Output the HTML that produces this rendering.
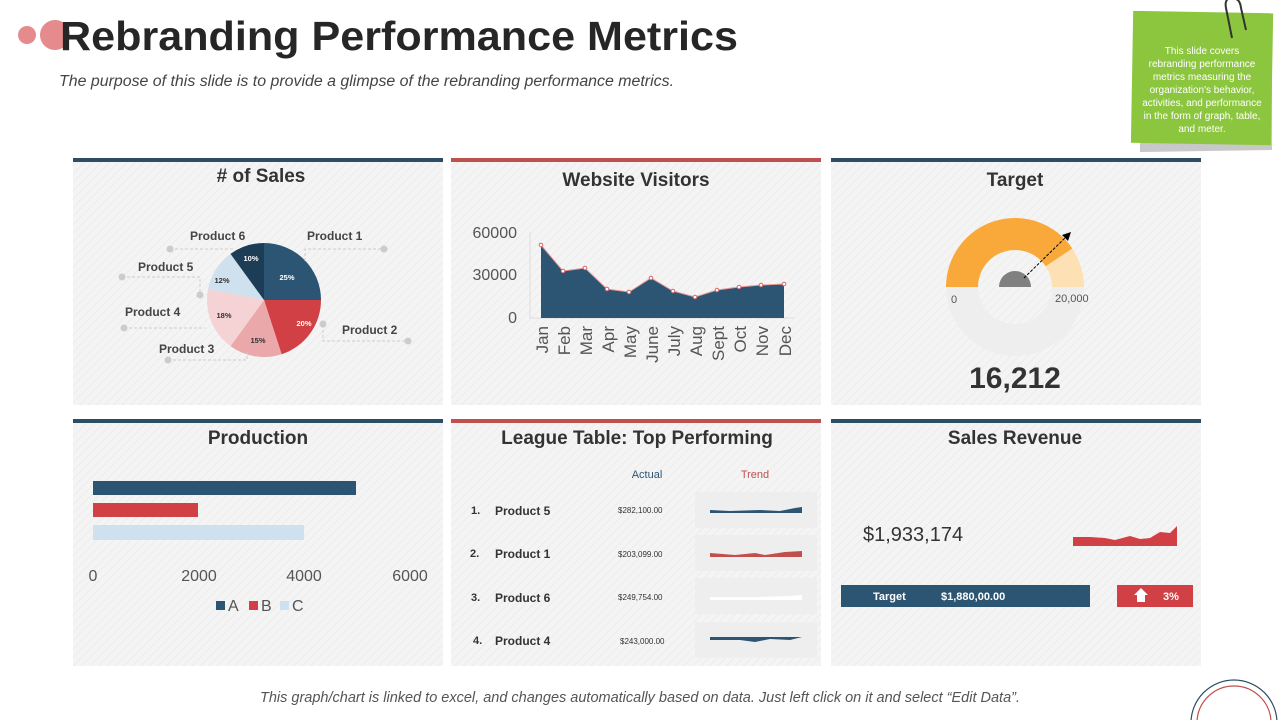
<!DOCTYPE html>
<html><head><meta charset="utf-8"><style>
html,body{margin:0;padding:0;width:1280px;height:720px;overflow:hidden;background:#fff;font-family:"Liberation Sans",sans-serif;}
svg{display:block}
svg text{font-family:"Liberation Sans",sans-serif;}
</style></head><body>
<svg width="1280" height="720" viewBox="0 0 1280 720" xmlns="http://www.w3.org/2000/svg">
<defs>
<pattern id="h" width="6" height="6" patternUnits="userSpaceOnUse" patternTransform="rotate(45)">
<rect width="6" height="6" fill="#f4f4f4"/><rect width="1" height="6" fill="#ececec"/></pattern>
<clipPath id="c"><rect width="1280" height="720"/></clipPath>
</defs>
<g clip-path="url(#c)">
<!-- header -->
<circle cx="27" cy="35" r="9" fill="#e58a8d"/>
<circle cx="55" cy="35" r="15" fill="#e58a8d"/>
<text x="60" y="50" font-size="41" font-weight="bold" fill="#262626" textLength="678" lengthAdjust="spacingAndGlyphs">Rebranding Performance Metrics</text>
<text x="59" y="86" font-size="15.5" font-style="italic" fill="#444" textLength="615" lengthAdjust="spacingAndGlyphs">The purpose of this slide is to provide a glimpse of the rebranding performance metrics.</text>
<!-- sticky note -->
<polygon points="1138,20 1272,16 1272,150 1140,152" fill="#c8c8c8"/>
<rect x="1132" y="12" width="140" height="132" fill="#8cc63f" transform="rotate(1 1200 80)"/>
<path d="M1232,38 L1226,8 Q1224,-2 1232,-2 Q1240,-2 1241,8 L1246,30" fill="none" stroke="#333" stroke-width="2"/>
<g font-size="10" fill="#fff" text-anchor="middle">
<text x="1202" y="54">This slide covers</text>
<text x="1202" y="67">rebranding performance</text>
<text x="1202" y="80">metrics measuring the</text>
<text x="1202" y="93">organization's behavior,</text>
<text x="1202" y="106">activities, and performance</text>
<text x="1202" y="119">in the form of graph, table,</text>
<text x="1202" y="132">and meter.</text>
</g>
<!-- panels -->
<rect x="73" y="162" width="370" height="243" fill="url(#h)"/>
<rect x="451" y="162" width="370" height="243" fill="url(#h)"/>
<rect x="831" y="162" width="370" height="243" fill="url(#h)"/>
<rect x="73" y="423" width="370" height="243" fill="url(#h)"/>
<rect x="451" y="423" width="370" height="243" fill="url(#h)"/>
<rect x="831" y="423" width="370" height="243" fill="url(#h)"/>
<rect x="73" y="158" width="370" height="4" fill="#2b4d65"/>
<rect x="451" y="158" width="370" height="4" fill="#c0504d"/>
<rect x="831" y="158" width="370" height="4" fill="#2b4d65"/>
<rect x="73" y="419" width="370" height="4" fill="#2b4d65"/>
<rect x="451" y="419" width="370" height="4" fill="#c0504d"/>
<rect x="831" y="419" width="370" height="4" fill="#2b4d65"/>
<g font-size="19" font-weight="bold" fill="#333" text-anchor="middle">
<text x="261" y="182"># of Sales</text>
<text x="636" y="186">Website Visitors</text>
<text x="1015" y="186">Target</text>
<text x="258" y="444">Production</text>
<text x="637" y="444">League Table: Top Performing</text>
<text x="1015" y="444">Sales Revenue</text>
</g>
<!-- pie -->
<path d="M264,300 L264,243 A57,57 0 0 1 321,300Z" fill="#2c5573"/>
<path d="M264,300 L321,300 A57,57 0 0 1 281.6,354.2Z" fill="#d04045"/>
<path d="M264,300 L281.6,354.2 A57,57 0 0 1 230.5,346.1Z" fill="#eaa8ab"/>
<path d="M264,300 L230.5,346.1 A57,57 0 0 1 208,289.3Z" fill="#f5d3d5"/>
<path d="M264,300 L208,289.3 A57,57 0 0 1 230.5,253.9Z" fill="#cfe0ee"/>
<path d="M264,300 L230.5,253.9 A57,57 0 0 1 264,243Z" fill="#1d3c55"/>
<g font-size="7.5" font-weight="bold" text-anchor="middle">
<text x="287" y="280" fill="#fff">25%</text>
<text x="304" y="326" fill="#fff">20%</text>
<text x="258" y="343" fill="#333">15%</text>
<text x="224" y="318" fill="#333">18%</text>
<text x="222" y="283" fill="#333">12%</text>
<text x="251" y="261" fill="#fff">10%</text>
</g>
<g stroke="#ccc" stroke-dasharray="3,2" fill="none">
<path d="M170,249 H234"/><path d="M305,261 V249 H384"/>
<path d="M122,277 H200 V295"/><path d="M124,328 H205"/>
<path d="M168,360 H247 V352"/><path d="M323,325 V341 H408"/>
</g>
<g fill="#ccc"><circle cx="170" cy="249" r="3.5"/><circle cx="384" cy="249" r="3.5"/><circle cx="122" cy="277" r="3.5"/><circle cx="200" cy="295" r="3.5"/><circle cx="124" cy="328" r="3.5"/><circle cx="168" cy="360" r="3.5"/><circle cx="323" cy="324" r="3.5"/><circle cx="408" cy="341" r="3.5"/></g>
<g font-size="12" font-weight="bold" fill="#444">
<text x="190" y="240">Product 6</text><text x="307" y="240">Product 1</text>
<text x="138" y="271">Product 5</text><text x="125" y="316">Product 4</text>
<text x="159" y="353">Product 3</text><text x="342" y="334">Product 2</text>
</g>
<!-- area chart -->
<g font-size="16" fill="#555" text-anchor="end"><text x="517" y="238">60000</text><text x="517" y="280">30000</text><text x="517" y="323">0</text></g>
<line x1="530" y1="232" x2="530" y2="318" stroke="#ddd"/>
<line x1="530" y1="318" x2="794" y2="318" stroke="#ddd"/>
<path d="M541,318 L541,245 L563,271 L585,268 L607,289 L629,292 L651,278 L673,291 L695,297 L717,290 L739,287 L761,285 L784,284 L784,318Z" fill="#2c5573"/>
<polyline points="541,245 563,271 585,268 607,289 629,292 651,278 673,291 695,297 717,290 739,287 761,285 784,284" fill="none" stroke="#e99" stroke-width="1"/>
<g fill="#fff" stroke="#d66" stroke-width="1"><circle cx="541" cy="245" r="1.8"/><circle cx="563" cy="271" r="1.8"/><circle cx="585" cy="268" r="1.8"/><circle cx="607" cy="289" r="1.8"/><circle cx="629" cy="292" r="1.8"/><circle cx="651" cy="278" r="1.8"/><circle cx="673" cy="291" r="1.8"/><circle cx="695" cy="297" r="1.8"/><circle cx="717" cy="290" r="1.8"/><circle cx="739" cy="287" r="1.8"/><circle cx="761" cy="285" r="1.8"/><circle cx="784" cy="284" r="1.8"/></g>
<g font-size="17" fill="#555" text-anchor="end">
<text transform="translate(548,326) rotate(-90)">Jan</text>
<text transform="translate(570,326) rotate(-90)">Feb</text>
<text transform="translate(592,326) rotate(-90)">Mar</text>
<text transform="translate(614,326) rotate(-90)">Apr</text>
<text transform="translate(636,326) rotate(-90)">May</text>
<text transform="translate(658,326) rotate(-90)">June</text>
<text transform="translate(680,326) rotate(-90)">July</text>
<text transform="translate(702,326) rotate(-90)">Aug</text>
<text transform="translate(724,326) rotate(-90)">Sept</text>
<text transform="translate(746,326) rotate(-90)">Oct</text>
<text transform="translate(768,326) rotate(-90)">Nov</text>
<text transform="translate(791,326) rotate(-90)">Dec</text>
</g>
<!-- gauge -->
<path d="M946,287 A69,69 0 0 0 1084,287 L1052,287 A37,37 0 0 1 978,287Z" fill="#eeeeee"/>
<path d="M946,287 A69,69 0 0 1 1084,287 L1052,287 A37,37 0 0 0 978,287Z" fill="#fde0b3"/>
<path d="M946,287 A69,69 0 0 1 1072.2,248.4 L1045.7,266.3 A37,37 0 0 0 978,287Z" fill="#f9a93a"/>
<path d="M999,287 A16,16 0 0 1 1031,287Z" fill="#808080"/>
<line x1="1024" y1="278" x2="1066" y2="237" stroke="#000" stroke-dasharray="3,1.5"/>
<polygon points="1071,232 1062,235 1068,241" fill="#000"/>
<text x="951" y="303" font-size="11" fill="#555">0</text>
<text x="1055" y="302" font-size="11" fill="#555">20,000</text>
<text x="1015" y="388" font-size="30" font-weight="bold" fill="#333" text-anchor="middle">16,212</text>
<!-- production -->
<rect x="93" y="481" width="263" height="14" fill="#2c5573"/>
<rect x="93" y="503" width="105" height="14" fill="#d04045"/>
<rect x="93" y="525" width="211" height="15" fill="#cfe0ee"/>
<g font-size="16" fill="#555" text-anchor="middle"><text x="93" y="581">0</text><text x="199" y="581">2000</text><text x="304" y="581">4000</text><text x="410" y="581">6000</text></g>
<rect x="216" y="601" width="9" height="9" fill="#2c5573"/><text x="228" y="611" font-size="16" fill="#555">A</text>
<rect x="249" y="601" width="9" height="9" fill="#d04045"/><text x="261" y="611" font-size="16" fill="#555">B</text>
<rect x="280" y="601" width="9" height="9" fill="#cfe0ee"/><text x="292" y="611" font-size="16" fill="#555">C</text>
<!-- league table -->
<text x="647" y="478" font-size="11" fill="#2c5573" text-anchor="middle">Actual</text>
<text x="755" y="478" font-size="11" fill="#c0504d" text-anchor="middle">Trend</text>
<g fill="#eeeeee"><rect x="695" y="492" width="122" height="36"/><rect x="695" y="535" width="122" height="36"/><rect x="695" y="578" width="122" height="36"/><rect x="695" y="622" width="122" height="36"/></g>
<g font-size="11" fill="#333" font-weight="bold"><text x="471" y="514">1.</text><text x="470" y="557">2.</text><text x="471" y="601">3.</text><text x="473" y="644">4.</text></g>
<g font-size="12" fill="#333" font-weight="bold"><text x="495" y="515">Product 5</text><text x="495" y="558">Product 1</text><text x="495" y="602">Product 6</text><text x="495" y="645">Product 4</text></g>
<g font-size="8" fill="#333"><text x="618" y="513">$282,100.00</text><text x="618" y="557">$203,099.00</text><text x="618" y="600">$249,754.00</text><text x="620" y="644">$243,000.00</text></g>
<path d="M710,510 L730,511 L760,510 L780,511 L795,508 L802,507 L802,513 L710,513Z" fill="#2c5573"/>
<path d="M710,553 L735,555 L755,553 L765,555 L785,552 L802,551 L802,557 L710,557Z" fill="#c0504d"/>
<path d="M710,597 L760,597 L790,596 L802,595 L802,600 L710,600Z" fill="#fff"/>
<path d="M710,637 L802,637 L790,640 L770,639 L755,642 L740,640 L710,640Z" fill="#2c5573"/>
<!-- sales revenue -->
<text x="863" y="541" font-size="20" fill="#333">$1,933,174</text>
<path d="M1073,537 L1090,537 L1105,538 L1115,540 L1130,536 L1140,539 L1150,538 L1160,532 L1170,533 L1177,526 L1177,546 L1073,546Z" fill="#d04045"/>
<rect x="841" y="585" width="249" height="22" fill="#2c5573"/>
<text x="873" y="600" font-size="11" font-weight="bold" fill="#fff">Target</text>
<text x="941" y="600" font-size="11" font-weight="bold" fill="#fff">$1,880,00.00</text>
<rect x="1117" y="585" width="76" height="22" fill="#d04045"/>
<polygon points="1141,588 1148,595 1145,595 1145,602 1137,602 1137,595 1134,595" fill="#fff"/>
<text x="1163" y="600" font-size="11" font-weight="bold" fill="#fff">3%</text>
<!-- footer -->
<text x="640" y="702" font-size="14.5" font-style="italic" fill="#555" text-anchor="middle">This graph/chart is linked to excel, and changes automatically based on data.  Just left click on it and select “Edit Data”.</text>
<circle cx="1234" cy="723" r="43" fill="none" stroke="#2b4d65" stroke-width="1.2"/>
<circle cx="1234" cy="723" r="37" fill="none" stroke="#c0504d" stroke-width="1.2"/>
</g>
</svg>
</body></html>
